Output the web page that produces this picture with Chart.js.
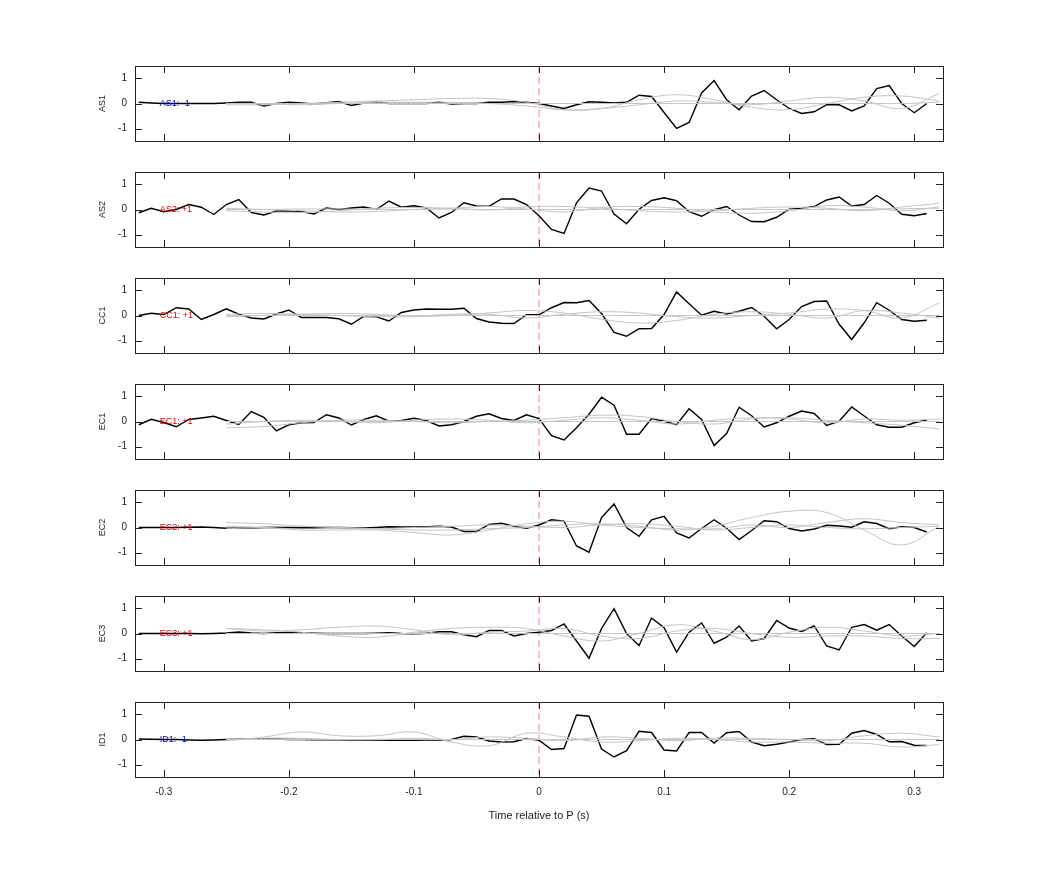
<!DOCTYPE html>
<html>
<head>
<meta charset="utf-8">
<script src="https://cdn.jsdelivr.net/npm/chart.js@4/dist/chart.umd.min.js"></script>
<style>
  body { margin: 0; background: #fff; }
  #wrap { position: relative; width: 1042px; height: 875px; }
  .panel { position: absolute; left: 0; width: 1042px; }
</style>
</head>
<body>
<div id="wrap"></div>
<script>
//*** DATA ***//
const times = [];
for (let i = 0; i < 64; i++) times.push(Math.round((-0.32 + i * 0.01) * 100) / 100);
const grayTimes = [-0.25, -0.22, -0.19, -0.16, -0.13, -0.10, -0.07, -0.04, -0.01, 0.02,
    0.05, 0.08, 0.11, 0.14, 0.17, 0.20, 0.23, 0.26, 0.29, 0.32];

const stations = ['AS1', 'AS2', 'CC1', 'EC1', 'EC2', 'EC3', 'ID1'];
const polarity = ['-1', '+1', '+1', '+1', '+1', '+1', '-1'];

const xTicks = [-0.3, -0.2, -0.1, 0, 0.1, 0.2, 0.3];
const yTicks = [-1, 0, 1];

const as1 = [0.05, 0.02, 0, 0, 0, 0, 0, 0.02, 0.05, 0.05, -0.1, 0, 0.05, 0.02, -0.02, 0.03,
    0.08, -0.08, 0.02, 0.05, 0, 0, 0, 0, 0.05, -0.02, 0, 0, 0.05, 0.05, 0.08, 0.05,
    0, -0.1, -0.2, -0.05, 0.07, 0.05, 0.02, 0.05, 0.33, 0.28, -0.36, -1.0, -0.76, 0.42, 0.92, 0.15,
    -0.25, 0.3, 0.52, 0.15, -0.2, -0.4, -0.33, -0.05, -0.05, -0.3, -0.1, 0.6, 0.72, 0, -0.37, 0];
const as2 = [-0.13, 0.05, -0.09, 0, 0.2, 0.09, -0.2, 0.2, 0.4, -0.12, -0.22, -0.06, -0.05, -0.08, -0.18, 0.06,
    0, 0.06, 0.1, 0, 0.34, 0.09, 0.15, 0.06, -0.34, -0.12, 0.27, 0.14, 0.13, 0.42, 0.42, 0.2,
    -0.25, -0.8, -0.96, 0.27, 0.86, 0.74, -0.18, -0.57, 0.01, 0.36, 0.47, 0.35, -0.09, -0.27, -0.01, 0.12,
    -0.22, -0.48, -0.49, -0.31, 0.01, 0.04, 0.12, 0.38, 0.5, 0.14, 0.2, 0.56, 0.25, -0.19, -0.25, -0.16];
const cc1 = [0, 0.09, 0.04, 0.31, 0.26, -0.16, 0.04, 0.27, 0.05, -0.1, -0.14, 0.06, 0.22, -0.08, -0.08, -0.08,
    -0.13, -0.35, -0.03, -0.05, -0.22, 0.12, 0.22, 0.26, 0.25, 0.25, 0.29, -0.12, -0.26, -0.31, -0.32, 0.03,
    0.03, 0.31, 0.52, 0.51, 0.6, 0.08, -0.68, -0.83, -0.53, -0.52, 0.04, 0.94, 0.47, 0.01, 0.17, 0.06,
    0.17, 0.32, -0.03, -0.53, -0.16, 0.36, 0.56, 0.58, -0.35, -0.96, -0.29, 0.51, 0.21, -0.16, -0.23, -0.19];
const ec1 = [-0.13, 0.09, -0.04, -0.21, 0.08, 0.14, 0.21, 0.04, -0.12, 0.4, 0.17, -0.38, -0.13, -0.05, -0.04, 0.27,
    0.14, -0.14, 0.08, 0.23, 0.01, 0.04, 0.13, 0.04, -0.18, -0.13, 0, 0.21, 0.31, 0.12, 0.04, 0.27,
    0.12, -0.57, -0.74, -0.25, 0.29, 0.97, 0.65, -0.51, -0.51, 0.12, 0.01, -0.13, 0.51, 0.08, -0.96, -0.48,
    0.57, 0.23, -0.22, -0.05, 0.21, 0.42, 0.32, -0.16, 0.01, 0.58, 0.22, -0.13, -0.23, -0.23, -0.05, 0.06];
const ec2 = [0, 0, 0, 0, 0.01, 0.02, 0, -0.03, -0.03, -0.02, 0, 0.01, 0, -0.01, -0.01, 0,
    0, -0.01, -0.02, 0, 0.03, 0.02, 0.02, 0.03, 0.05, 0.02, -0.16, -0.16, 0.12, 0.17, 0.05, -0.03,
    0.1, 0.31, 0.25, -0.74, -0.99, 0.4, 0.94, 0, -0.35, 0.31, 0.45, -0.22, -0.42, -0.04, 0.31, -0.03,
    -0.48, -0.12, 0.27, 0.23, -0.04, -0.14, -0.06, 0.09, 0.06, 0.01, 0.23, 0.16, -0.05, 0.03, 0, -0.18];
const ec3 = [0, 0, 0, 0, 0, -0.01, 0, 0.02, 0.06, 0.02, 0, 0.03, 0.04, 0.03, 0.01, 0,
    0, 0, 0, 0.01, 0.03, 0, -0.01, 0.01, 0.07, 0.07, -0.05, -0.13, 0.12, 0.12, -0.1, 0,
    0.05, 0.12, 0.38, -0.3, -0.99, 0.2, 0.99, 0, -0.48, 0.62, 0.23, -0.74, 0.05, 0.42, -0.39, -0.15,
    0.3, -0.3, -0.2, 0.52, 0.22, 0.08, 0.3, -0.5, -0.66, 0.25, 0.36, 0.13, 0.36, -0.1, -0.52, 0.03];
const id1 = [0.02, 0.01, 0, 0, -0.02, -0.03, -0.02, 0, 0.01, 0.02, 0.03, 0.02, 0, 0, -0.01, -0.01,
    -0.01, -0.02, -0.02, -0.02, -0.03, -0.03, -0.03, -0.02, -0.02, 0, 0.13, 0.1, -0.06, -0.1, -0.09, 0.04,
    -0.03, -0.4, -0.36, 0.98, 0.93, -0.38, -0.7, -0.45, 0.33, 0.28, -0.42, -0.46, 0.28, 0.28, -0.14, 0.27,
    0.32, -0.1, -0.25, -0.19, -0.1, 0, 0.03, -0.2, -0.19, 0.25, 0.36, 0.2, -0.09, -0.08, -0.23, -0.24];
const blackSeries = [as1, as2, cc1, ec1, ec2, ec3, id1];

// grey comparison traces (smooth), sampled at grayTimes
const grayAS1 = [
    [0, 0, 0, 0, 0, 0, 0, 0, 0, 0, 0, 0, 0, 0, 0, 0, 0, 0, 0, 0.05],
    [-0.05, -0.05, 0, 0.05, 0.1, 0.15, 0.2, 0.2, 0.05, -0.25, -0.2, 0.15, 0.35, 0.15, -0.15, -0.25, 0, 0.25, 0.3, 0.1],
    [0, 0, -0.05, 0, 0.05, 0.05, 0.05, 0, -0.1, -0.25, -0.2, -0.05, 0.1, 0.05, -0.05, 0.1, 0.25, 0.1, -0.2, 0.4]
];
const grayAS2 = [
    [0, 0, 0.02, 0.02, 0, 0, 0.02, 0, 0, 0, 0, 0, 0, 0, 0, 0, 0, 0, 0.03, 0.05],
    [-0.05, -0.1, -0.12, -0.05, 0.05, 0.08, 0.05, -0.02, 0.1, 0.12, 0.05, -0.05, -0.1, -0.05, 0.05, 0.1, 0.05, -0.05, 0.1, 0.25],
    [0.05, 0, -0.05, -0.1, -0.08, 0, 0.05, 0.12, 0.02, -0.1, 0.08, 0.12, 0.05, -0.1, -0.15, -0.05, 0.15, 0.1, -0.05, 0.1]
];
const grayCC1 = [
    [0, 0, 0, 0, 0, 0, 0, 0, 0, 0, 0, 0, 0, 0, 0, 0, 0, 0, 0, 0],
    [0.05, 0.08, 0.05, 0, -0.05, -0.05, 0, 0.1, 0.2, 0.1, -0.15, -0.3, -0.2, 0.05, 0.15, 0.05, -0.1, 0.2, 0.1, -0.1],
    [-0.05, 0, 0.05, 0.08, 0.05, -0.02, 0.05, 0.05, -0.1, 0.05, 0.15, 0.1, -0.05, -0.1, 0, 0.1, 0.25, 0.2, -0.1, 0.5]
];
const grayEC1 = [
    [0, 0, 0, 0, 0, 0, 0, 0, 0, 0, 0, 0, 0, 0, 0, 0, 0, 0, 0, 0],
    [-0.25, -0.2, -0.05, 0.05, 0.05, 0, -0.05, 0, 0.05, 0.15, 0.25, 0.2, 0, -0.1, 0.1, 0.15, 0.05, -0.05, -0.15, -0.3],
    [-0.1, 0, 0.05, 0, -0.05, 0.05, 0.1, 0.05, -0.05, 0.05, 0.15, 0.05, -0.1, 0.05, 0.15, 0.1, -0.05, 0.1, 0.05, 0.1]
];
const grayEC2 = [
    [0.2, 0.15, 0.05, 0, -0.05, -0.1, -0.1, -0.05, 0, 0.1, 0.15, 0.05, -0.1, 0.05, 0.4, 0.65, 0.6, -0.1, -0.7, 0.05],
    [0.05, 0, -0.1, -0.1, -0.1, -0.2, -0.3, -0.1, 0.15, 0.25, 0.1, 0, -0.05, -0.05, 0.1, 0, 0.2, 0.35, 0.2, 0.1],
    [-0.05, 0, 0.05, 0, -0.05, 0, 0.05, 0.1, 0.05, 0, 0.1, 0.15, 0.05, -0.1, 0, 0.1, 0, -0.05, 0, 0.05]
];
const grayEC3 = [
    [0.2, 0.15, 0.05, -0.1, -0.15, 0.05, 0.2, 0.25, 0.2, -0.1, -0.3, 0, 0.35, 0.1, -0.25, 0.05, 0.25, 0.1, -0.1, 0],
    [0.2, 0.1, 0.15, 0.25, 0.3, 0.15, -0.05, 0.05, 0.1, 0.2, -0.1, -0.2, 0.1, 0.2, 0, -0.15, -0.1, -0.1, -0.2, -0.2],
    [0, 0, 0, 0, 0, 0, 0, 0, 0, 0, 0, 0, 0, 0, 0, 0, 0, 0, 0, 0]
];
const grayID1 = [
    [-0.05, 0.1, 0.3, 0.15, 0.15, 0.3, -0.1, -0.25, 0.25, 0.1, -0.1, -0.05, 0.05, 0, -0.1, -0.1, -0.15, -0.15, -0.3, -0.2],
    [0, 0.05, 0.05, 0, 0, 0.05, 0, 0.1, 0.05, -0.05, 0.1, 0.05, -0.05, 0.05, 0.05, 0, -0.05, 0.15, 0.25, 0.1],
    [0, 0, 0, 0, 0, 0, 0, 0, 0, 0, 0, 0, 0, 0, 0, 0, 0, 0, 0, 0]
];
const graySeries = [grayAS1, grayAS2, grayCC1, grayEC1, grayEC2, grayEC3, grayID1];

//*** FUNCTIONS ***//
const FONT = '"Liberation Sans", Arial, sans-serif';
const PANEL_TOP = 66, PANEL_STEP = 106, PANEL_H = 75;
const PAD = 14;   // space Chart.js keeps above/below the plot area

const framePlugin = {
    id: 'frame',
    beforeDatasetsDraw(chart) {
        const { ctx, chartArea: a, scales: { x } } = chart;
        const x0 = x.getPixelForValue(0);
        ctx.save();
        ctx.strokeStyle = '#f08080';
        ctx.lineWidth = 1;
        ctx.setLineDash([7, 4]);
        ctx.beginPath();
        ctx.moveTo(x0, a.top);
        ctx.lineTo(x0, a.bottom);
        ctx.stroke();
        ctx.restore();
    },
    afterDraw(chart) {
        const { ctx, chartArea: a, scales: { x, y } } = chart;
        const o = chart.options.plugins.frame;
        ctx.save();
        ctx.strokeStyle = '#222';
        ctx.lineWidth = 1;
        ctx.strokeRect(Math.round(a.left) + 0.5, Math.round(a.top) + 0.5, Math.round(a.right - a.left), Math.round(a.bottom - a.top));
        ctx.beginPath();
        xTicks.forEach(v => {
            const px = Math.round(x.getPixelForValue(v)) + 0.5;
            ctx.moveTo(px, a.bottom); ctx.lineTo(px, a.bottom - 7);
            ctx.moveTo(px, a.top); ctx.lineTo(px, a.top + 7);
        });
        yTicks.forEach(v => {
            const py = Math.round(y.getPixelForValue(v)) + 0.5;
            ctx.moveTo(a.left, py); ctx.lineTo(a.left + 7, py);
            ctx.moveTo(a.right, py); ctx.lineTo(a.right - 7, py);
        });
        ctx.stroke();
        // station label
        ctx.font = '9px ' + FONT;
        ctx.fillStyle = o.labelColor;
        ctx.textAlign = 'left';
        ctx.textBaseline = 'middle';
        ctx.fillText(o.label, x.getPixelForValue(-0.3) - 4, y.getPixelForValue(0));
        // y title
        ctx.fillStyle = '#222';
        ctx.textAlign = 'center';
        ctx.translate(103, y.getPixelForValue(0));
        ctx.rotate(-Math.PI / 2);
        ctx.fillText(o.title, 0, 0);
        ctx.restore();
        if (o.xTitle) {
            ctx.save();
            ctx.font = '11px ' + FONT;
            ctx.fillStyle = '#222';
            ctx.textAlign = 'center';
            ctx.textBaseline = 'middle';
            ctx.fillText(o.xTitle, x.getPixelForValue(0), a.bottom + 39);
            ctx.restore();
        }
    }
};

const initPanel = (i) => {
    const last = i === stations.length - 1;
    const div = document.createElement('div');
    div.className = 'panel';
    const top = PANEL_TOP + PANEL_STEP * i - PAD;
    const h = last ? PAD + PANEL_H + 60 : PAD + PANEL_H + PAD;
    div.style.top = top + 'px';
    div.style.height = h + 'px';
    const canvas = document.createElement('canvas');
    div.appendChild(canvas);
    document.getElementById('wrap').appendChild(div);

    const datasets = graySeries[i].map(g => ({
        data: grayTimes.map((t, k) => ({ x: t, y: g[k] })),
        borderColor: '#c4c4c4',
        borderWidth: 1,
        tension: 0.4
    }));
    datasets.push({
        data: times.map((t, k) => ({ x: t, y: blackSeries[i][k] })),
        borderColor: '#000',
        borderWidth: 1.4,
        tension: 0
    });

    return new Chart(canvas, {
        type: 'line',
        data: { datasets },
        options: {
            responsive: true,
            maintainAspectRatio: false,
            animation: false,
            events: [],
            layout: { padding: { left: 0, right: 99, top: 0, bottom: 0 } },
            elements: { point: { radius: 0 } },
            scales: {
                x: {
                    type: 'linear',
                    min: -0.323,
                    max: 0.323,
                    grid: { display: false, drawTicks: false },
                    border: { display: false },
                    afterBuildTicks: s => { s.ticks = xTicks.map(v => ({ value: v })); },
                    afterFit: s => { s.height = last ? 60 : 0; },
                    ticks: { display: last, padding: 9, color: '#222', font: { family: FONT, size: 10 }, maxRotation: 0 }
                },
                y: {
                    min: -1.5,
                    max: 1.5,
                    grid: { display: false, drawTicks: false },
                    border: { display: false },
                    afterBuildTicks: s => { s.ticks = yTicks.map(v => ({ value: v })); },
                    afterFit: s => { s.width = 135; },
                    ticks: { padding: 8, color: '#222', font: { family: FONT, size: 10 } }
                }
            },
            plugins: {
                legend: { display: false },
                tooltip: { enabled: false },
                frame: {
                    label: stations[i] + ': ' + polarity[i],
                    labelColor: polarity[i] === '-1' ? '#0000cc' : '#dd0000',
                    title: stations[i],
                    xTitle: last ? 'Time relative to P (s)' : null
                }
            }
        },
        plugins: [framePlugin]
    });
};

stations.forEach((s, i) => initPanel(i));
</script>
</body>
</html>
